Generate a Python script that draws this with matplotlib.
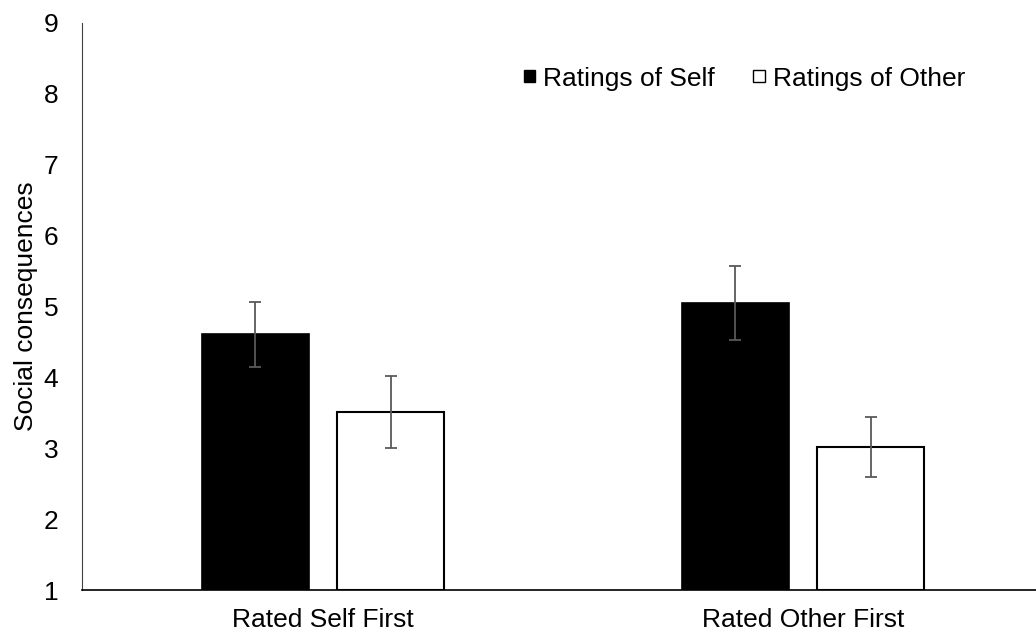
import numpy as np
import matplotlib.pyplot as plt
from matplotlib.patches import Patch

plt.rcParams['font.family'] = ['Liberation Sans', 'DejaVu Sans']

# -----------------------------------------------------------------------
# Data
# -----------------------------------------------------------------------
groups = ['Rated Self First', 'Rated Other First']
series = ['Ratings of Self', 'Ratings of Other']
self_means = [4.61, 5.05]
self_err = [0.46, 0.52]
other_means = [3.51, 3.02]
other_err = [0.51, 0.42]

# -----------------------------------------------------------------------
# Plot
# -----------------------------------------------------------------------
fig = plt.figure(figsize=(10.36, 6.39), dpi=100)
ax = fig.add_axes([82 / 1036, 49 / 639, 954 / 1036, 567 / 639])

x = np.arange(len(groups))
w = 0.223
off = 0.141
ekw = dict(ecolor='#595959', elinewidth=1.3, capsize=4, capthick=1.3)

ax.bar(x - off, np.array(self_means) - 1, w, bottom=1, yerr=self_err,
       color='black', edgecolor='black', linewidth=1.2, error_kw=ekw)
ax.bar(x + off, np.array(other_means) - 1, w, bottom=1, yerr=other_err,
       color='white', edgecolor='black', linewidth=1.5, error_kw=ekw)

ax.set_xlim(-0.502, 1.4855)
ax.set_ylim(1, 9)
ax.set_yticks(range(1, 10))
ax.set_xticks(x)
ax.set_xticklabels(groups)
ax.tick_params(axis='both', length=0, labelsize=19, pad=13)
ax.tick_params(axis='y', pad=17)
ax.set_ylabel('Social consequences', fontsize=19, labelpad=4)

for s in ['top', 'right']:
    ax.spines[s].set_visible(False)
ax.spines['left'].set_color('#404040')
ax.spines['bottom'].set_color('black')
ax.spines['bottom'].set_linewidth(1.2)

handles = [Patch(facecolor='black', edgecolor='black'),
           Patch(facecolor='white', edgecolor='black')]
ax.legend(handles, series, ncol=2, loc='upper left',
          bbox_to_anchor=(0.438, 0.965), frameon=False, fontsize=19,
          handlelength=0.45, handleheight=0.32, handletextpad=0.3,
          columnspacing=1.45)

plt.savefig('out.png', dpi=100)
